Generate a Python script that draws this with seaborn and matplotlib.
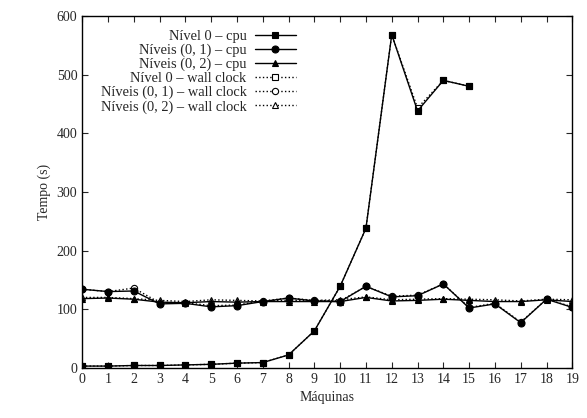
import numpy as np
import pandas as pd
import matplotlib
matplotlib.use("Agg")
import matplotlib.pyplot as plt
import seaborn as sns

# ──────────────────────────────────────────────
# Data
# ──────────────────────────────────────────────

machines_l0 = list(range(16))
machines_all = list(range(20))

nivel0_cpu = [3, 3, 4, 4, 5, 6, 8, 9, 22, 63, 139, 238, 568, 438, 490, 480]
nivel0_wall = [3, 3, 4, 4, 5, 6, 8, 9, 22, 63, 139, 238, 568, 443, 490, 480]

niveis01_cpu = [134, 130, 131, 109, 110, 104, 106, 113, 119, 114,
                113, 139, 121, 123, 143, 102, 109, 77, 117, 103]
niveis01_wall = [134, 130, 136, 111, 111, 106, 107, 114, 119, 115,
                 114, 139, 122, 124, 143, 103, 110, 78, 117, 104]

niveis02_cpu = [118, 119, 117, 112, 111, 113, 112, 113, 113, 113,
                113, 120, 114, 115, 117, 115, 113, 113, 116, 113]
niveis02_wall = [120, 120, 118, 115, 113, 116, 115, 114, 115, 115,
                 116, 121, 116, 117, 118, 117, 116, 114, 117, 116]

labels = [
    "Nível 0 – cpu",
    "Níveis (0, 1) – cpu",
    "Níveis (0, 2) – cpu",
    "Nível 0 – wall clock",
    "Níveis (0, 1) – wall clock",
    "Níveis (0, 2) – wall clock",
]

series = [
    (machines_l0, nivel0_cpu, "s", "-", "black", 5),
    (machines_all, niveis01_cpu, "o", "-", "black", 5),
    (machines_all, niveis02_cpu, "^", "-", "black", 4),
    (machines_l0, nivel0_wall, "s", ":", "white", 4.5),
    (machines_all, niveis01_wall, "o", ":", "white", 4.5),
    (machines_all, niveis02_wall, "^", ":", "white", 4.5),
]

# ──────────────────────────────────────────────
# Plot
# ──────────────────────────────────────────────

sns.set_theme(style="ticks")
plt.rcParams["font.family"] = ["Liberation Serif", "DejaVu Serif"]

fig, ax = plt.subplots(figsize=(5.87, 4.18), dpi=100)

# wall clock first so the cpu markers sit on top
order = [3, 4, 5, 0, 1, 2]
for i in order:
    x, y, marker, ls, face, ms = series[i]
    df = pd.DataFrame({"x": x, "y": y})
    sns.lineplot(
        data=df, x="x", y="y", ax=ax, color="black", linestyle=ls, lw=1.0,
        marker=marker, markersize=ms, markerfacecolor=face,
        markeredgecolor="black", markeredgewidth=0.8, label=labels[i],
    )

ax.set_xlim(0, 19)
ax.set_ylim(0, 600)
ax.set_xticks(machines_all)
ax.set_yticks([0, 100, 200, 300, 400, 500, 600])
ax.tick_params(direction="in", top=True, right=True, labelsize=10, length=4, width=0.8)
for s in ax.spines.values():
    s.set_linewidth(1.0)
    s.set_color("black")

ax.set_xlabel("Máquinas", fontsize=10)
ax.set_ylabel("Tempo (s)", fontsize=10)

handles, lbls = ax.get_legend_handles_labels()
lookup = dict(zip(lbls, handles))
ax.legend(
    [lookup[l] for l in labels], labels,
    loc="upper left", bbox_to_anchor=(0.02, 0.985), markerfirst=False,
    frameon=False, fontsize=10.4, handlelength=2.8, handletextpad=0.6,
    labelspacing=0.05, borderaxespad=0.2,
)
for t in ax.get_legend().get_texts():
    t.set_ha("right")

fig.subplots_adjust(left=0.14, right=0.975, top=0.962, bottom=0.12)
fig.savefig("out.png", dpi=100)
